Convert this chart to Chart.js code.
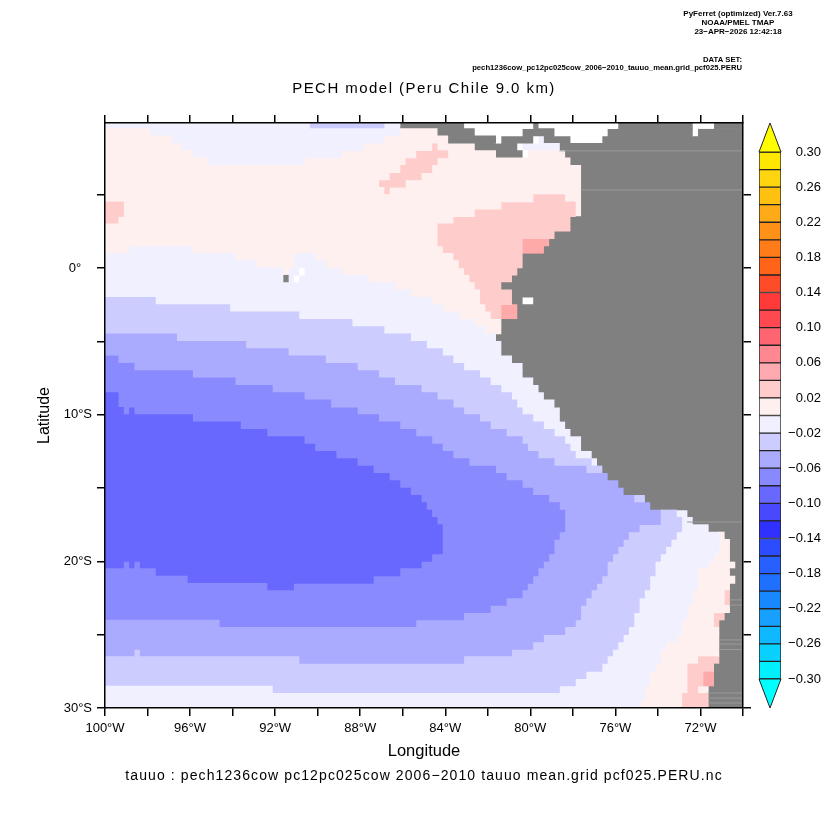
<!DOCTYPE html>
<html>
<head>
<meta charset="utf-8">
<title>PECH model</title>
<script src="https://cdn.jsdelivr.net/npm/chart.js@4/dist/chart.umd.min.js"></script>
<style>
  html, body { margin: 0; padding: 0; background: #fff; }
  canvas { position: absolute; left: 0; top: 0; }
</style>
</head>
<body>
<canvas id="mapChart" width="832" height="832"></canvas>
<canvas id="barChart" width="832" height="832"></canvas>
<script>
// row centres, degrees (negative = south)
var lats = [9.75, 9.25, 8.75, 8.25, 7.75, 7.25, 6.75, 6.25, 5.75, 5.25, 4.75, 4.25, 3.75, 3.25, 2.75, 2.25, 1.75, 1.25, 0.75, 0.25,
            -0.25, -0.75, -1.25, -1.75, -2.25, -2.75, -3.25, -3.75, -4.25, -4.75, -5.25, -5.75, -6.25, -6.75, -7.25, -7.75, -8.25, -8.75, -9.25, -9.75,
            -10.25, -10.75, -11.25, -11.75, -12.25, -12.75, -13.25, -13.75, -14.25, -14.75, -15.25, -15.75, -16.25, -16.75, -17.25, -17.75, -18.25, -18.75, -19.25, -19.75,
            -20.25, -20.75, -21.25, -21.75, -22.25, -22.75, -23.25, -23.75, -24.25, -24.75, -25.25, -25.75, -26.25, -26.75, -27.25, -27.75, -28.25, -28.75, -29.25, -29.75];

// colour class of each run
var classColors = { W: '#ffffff', L: '#808080', a: '#ffaaaa', b: '#ffcccc', c: '#fff0f0', d: '#f0f0ff', e: '#ccccff', f: '#aaaaff', g: '#8a8aff', h: '#6868ff' };

// one row per latitude: start longitude (deg W) then class, run goes on to the next start or 70W
var rows = [
  [100,'d',90.38,'e',86.88,'d',86.13,'L',83.13,'W',79.88,'L',79.63,'W',75.88,'L',72.38,'W',71.38,'L'],
  [100,'c',97.88,'d',86.13,'c',84.38,'L',82.63,'W',80.38,'L',78.88,'W',76.38,'L',72.38,'W',72.13,'L'],
  [100,'c',96.88,'d',86.88,'c',83.88,'L',81.63,'W',81.38,'L',79.88,'W',79.63,'d',79.38,'L',78.13,'W',76.63,'L'],
  [100,'c',96.38,'d',87.88,'c',84.63,'b',84.38,'c',82.63,'L',80.63,'W',80.38,'d',78.63,'L'],
  [100,'c',95.88,'d',88.88,'c',85.38,'b',83.88,'c',81.63,'L',80.38,'W',80.13,'c',78.38,'L'],
  [100,'c',95.13,'d',90.63,'c',85.88,'b',84.38,'c',78.13,'L'],
  [100,'c',86.13,'b',84.63,'c',77.63,'L'],
  [100,'c',86.63,'b',85.13,'c',77.63,'L'],
  [100,'c',87.13,'b',85.88,'c',77.63,'L'],
  [100,'c',86.88,'b',86.63,'c',77.63,'L'],
  [100,'c',79.88,'b',78.38,'c',77.63,'L'],
  [100,'b',99.13,'c',81.38,'b',77.88,'c',77.63,'L'],
  [100,'b',99.13,'c',82.63,'b',77.88,'c',77.63,'L'],
  [100,'b',99.38,'c',83.63,'b',78.13,'L'],
  [100,'c',84.38,'b',78.13,'L'],
  [100,'c',84.38,'b',78.88,'L'],
  [100,'c',84.38,'b',80.38,'a',79.13,'L'],
  [100,'c',98.88,'d',95.88,'c',84.13,'b',80.38,'a',79.38,'L'],
  [100,'d',93.88,'c',91.13,'d',90.13,'c',83.63,'b',80.38,'L'],
  [100,'d',92.88,'c',91.13,'d',89.63,'c',83.38,'b',80.38,'L'],
  [100,'d',91.63,'c',91.38,'d',90.88,'W',90.63,'d',88.88,'c',83.13,'b',80.63,'L'],
  [100,'d',91.63,'L',91.38,'d',91.13,'W',90.88,'d',87.63,'c',82.88,'b',80.88,'L'],
  [100,'d',86.38,'c',82.63,'b',81.38,'L'],
  [100,'d',85.63,'c',82.38,'b',80.88,'L'],
  [100,'e',97.63,'d',84.63,'c',82.38,'b',80.88,'L',80.38,'W',79.88,'L'],
  [100,'e',94.13,'d',84.13,'c',82.13,'b',81.38,'a',80.63,'L'],
  [100,'e',90.88,'d',83.38,'c',81.88,'b',81.38,'a',80.63,'L'],
  [100,'e',88.38,'d',82.63,'c',81.38,'L'],
  [100,'e',86.88,'d',82.13,'c',81.38,'L'],
  [100,'f',96.63,'e',85.63,'d',81.63,'L'],
  [100,'f',93.38,'e',84.88,'d',81.38,'L'],
  [100,'f',91.38,'e',84.13,'d',81.38,'L'],
  [100,'g',99.38,'f',89.63,'e',83.63,'d',80.88,'L'],
  [100,'g',98.63,'f',88.13,'e',83.13,'d',80.38,'L'],
  [100,'g',95.88,'f',87.13,'e',82.38,'d',80.38,'L'],
  [100,'g',93.88,'f',86.38,'e',81.88,'d',79.88,'L'],
  [100,'g',92.13,'f',85.13,'e',81.38,'d',79.63,'L'],
  [100,'h',99.38,'g',90.63,'f',84.38,'e',80.88,'d',79.38,'L'],
  [100,'h',99.38,'g',89.38,'f',83.63,'e',80.63,'d',78.88,'L'],
  [100,'h',99.13,'g',98.88,'h',98.63,'g',88.13,'f',83.13,'e',80.38,'d',78.63,'L'],
  [100,'h',95.88,'g',87.13,'f',82.38,'e',79.88,'d',78.63,'L'],
  [100,'h',93.63,'g',86.13,'f',81.88,'e',79.38,'d',78.38,'L'],
  [100,'h',92.38,'g',85.38,'f',81.13,'e',78.88,'d',78.13,'L'],
  [100,'h',90.63,'g',84.63,'f',80.38,'e',78.38,'d',77.63,'L'],
  [100,'h',90.13,'g',84.13,'f',80.13,'e',78.13,'d',77.63,'L'],
  [100,'h',89.13,'g',83.63,'f',79.63,'e',77.88,'d',77.13,'L'],
  [100,'h',88.13,'g',82.88,'f',78.88,'e',77.13,'d',76.88,'L'],
  [100,'h',87.38,'g',81.63,'f',77.38,'e',76.63,'L'],
  [100,'h',86.63,'g',81.13,'f',76.38,'L'],
  [100,'h',86.13,'g',80.38,'f',75.88,'L'],
  [100,'h',85.63,'g',79.88,'f',75.63,'L'],
  [100,'h',85.13,'g',79.13,'f',75.13,'e',74.63,'L'],
  [100,'h',84.88,'g',78.63,'f',74.38,'L'],
  [100,'h',84.63,'g',78.38,'f',73.88,'e',73.13,'d',72.63,'L'],
  [100,'h',84.38,'g',78.38,'f',73.88,'e',72.88,'d',72.38,'L'],
  [100,'h',84.13,'g',78.38,'f',74.88,'e',72.88,'d',71.63,'L'],
  [100,'h',84.13,'g',78.63,'f',75.38,'e',73.13,'d',71.13,'c',70.88,'L'],
  [100,'h',84.13,'g',78.88,'f',75.63,'e',73.38,'d',71.13,'c',70.63,'L'],
  [100,'h',84.13,'g',78.88,'f',75.88,'e',73.63,'d',71.13,'c',70.63,'L'],
  [100,'h',84.63,'g',79.13,'f',76.13,'e',73.88,'d',71.38,'c',70.63,'L'],
  [100,'h',99.13,'g',98.88,'h',98.63,'g',98.38,'h',85.13,'g',79.38,'f',76.38,'e',74.13,'d',71.63,'c',70.38,'L'],
  [100,'g',97.63,'h',86.13,'g',79.63,'f',76.38,'e',74.13,'d',72.13,'c',70.63,'L'],
  [100,'g',96.13,'h',87.38,'g',79.88,'f',76.63,'e',74.38,'d',72.13,'c',70.38,'L'],
  [100,'g',92.38,'h',91.13,'g',80.13,'f',76.88,'e',74.38,'d',72.13,'c',70.63,'L'],
  [100,'g',80.38,'f',77.13,'e',74.63,'d',72.38,'c',70.88,'b',70.63,'L'],
  [100,'g',81.13,'f',77.38,'e',74.88,'d',72.38,'c',70.88,'b',70.63,'L'],
  [100,'g',81.88,'f',77.63,'e',74.88,'d',72.63,'c',70.63,'L'],
  [100,'g',83.13,'f',77.63,'e',75.13,'d',72.63,'c',71.38,'b',70.88,'L'],
  [100,'f',94.63,'g',85.38,'f',77.88,'e',75.13,'d',72.88,'c',71.38,'b',71.13,'L'],
  [100,'f',78.38,'e',75.38,'d',72.88,'c',71.13,'L'],
  [100,'f',79.38,'e',75.63,'d',73.13,'c',71.13,'L'],
  [100,'f',79.88,'e',75.88,'d',73.63,'c',71.13,'L'],
  [100,'f',98.63,'e',98.38,'f',80.88,'e',76.13,'d',73.88,'c',71.13,'L'],
  [100,'e',90.88,'f',83.13,'e',76.38,'d',73.88,'c',72.13,'b',71.13,'L'],
  [100,'e',76.63,'d',74.13,'c',72.63,'b',71.38,'L'],
  [100,'e',77.38,'d',74.38,'c',72.63,'b',71.88,'a',71.38,'L'],
  [100,'e',77.88,'d',74.38,'c',72.63,'b',71.88,'a',71.38,'L'],
  [100,'d',92.13,'e',78.63,'d',74.63,'c',72.63,'b',72.13,'c',71.63,'L'],
  [100,'d',74.63,'c',72.88,'b',71.63,'L'],
  [100,'d',74.88,'c',72.88,'b',71.63,'L']
];

// thin lighter lines over the land
var seamLats = [7.98, 5.32, -17.32, -22.63, -22.98, -25.36, -25.64, -26.01, -28.98, -29.32, -29.66];
var seamFrom = [78.63, 77.63, 72.63, 70.63, 70.63, 71.13, 71.13, 71.13, 71.63, 71.63, 71.63];

// colour bar, from the bottom up
var barEdges = [-0.30, -0.28, -0.26, -0.24, -0.22, -0.20, -0.18, -0.16, -0.14, -0.12, -0.10, -0.08, -0.06, -0.04, -0.02, 0,
                0.02, 0.04, 0.06, 0.08, 0.10, 0.12, 0.14, 0.16, 0.18, 0.20, 0.22, 0.24, 0.26, 0.28, 0.30];
var barColors = ['#00f0ff', '#08d0ff', '#10b8ff', '#18a0ff', '#1888ff', '#2070ff', '#2860ff', '#2c4cff', '#3030ff', '#4848ff', '#6868ff', '#8888ff', '#aaaaff', '#ccccff', '#f0f0ff',
                 '#fff0f0', '#ffcccc', '#ffaab0', '#ff8890', '#ff6570', '#ff4850', '#ff3a38', '#ff4c28', '#ff6418', '#ff7c18', '#ff9018', '#ffaa18', '#ffc010', '#ffd510', '#ffe600'];

var titleText = 'PECH model (Peru Chile 9.0 km)';
var footText = 'tauuo : pech1236cow pc12pc025cow 2006\u22122010 tauuo mean.grid pcf025.PERU.nc';
var headerLines = ['PyFerret (optimized) Ver.7.63', 'NOAA/PMEL TMAP', '23\u2212APR\u22122026 12:42:18'];
var dataSetLines = ['DATA SET:', 'pech1236cow_pc12pc025cow_2006\u22122010_tauuo_mean.grid_pcf025.PERU'];

var datasets = [];
rows.forEach(function(row, k) {
    for (var j = 0; j < row.length; j += 2) {
        var slot = j / 2;
        if (!datasets[slot]) {
            datasets[slot] = {
                data: [],
                grouped: false,
                barPercentage: 1,
                categoryPercentage: 1,
                borderWidth: 0,
                backgroundColor: function(c) { return c.raw ? classColors[c.raw.cls] : '#fff'; }
            };
        }
        var end = j + 2 < row.length ? row[j + 2] : 70;
        datasets[slot].data.push({ x: [row[j], end], y: lats[k], cls: row[j + 1] });
    }
});
seamLats.forEach(function(lat, i) {
    datasets.push({
        type: 'line',
        order: -1,
        data: [{ x: seamFrom[i], y: lat }, { x: 70, y: lat }],
        borderColor: '#9a9a9a',
        borderWidth: 1,
        pointRadius: 0
    });
});

// header and footer text, the chart's own title box can not sit this freely
var textPlugin = {
    id: 'textPlugin',
    afterDraw: function(chart) {
        var ctx = chart.ctx;
        ctx.save();
        ctx.fillStyle = '#000';
        ctx.textBaseline = 'middle';
        ctx.textAlign = 'center';
        ctx.font = '15px "Liberation Sans"';
        ctx.letterSpacing = '1.45px';
        ctx.fillText(titleText, 424, 89);
        ctx.font = '14px "Liberation Sans"';
        ctx.letterSpacing = '1.1px';
        ctx.fillText(footText, 424, 776);
        ctx.letterSpacing = '0px';
        ctx.font = 'bold 8px "Liberation Sans"';
        headerLines.forEach(function(t, i) { ctx.fillText(t, 738, 14 + i * 9); });
        ctx.textAlign = 'right';
        ctx.font = 'bold 7.7px "Liberation Sans"';
        ctx.fillText(dataSetLines[0], 742, 60);
        ctx.fillText(dataSetLines[1], 742, 68);
        ctx.restore();
    }
};

var ctx = document.getElementById('mapChart').getContext('2d');
var mapChart = new Chart(ctx, {
    type: 'bar',
    data: { datasets: datasets },
    plugins: [textPlugin],
    options: {
        indexAxis: 'y',
        responsive: false,
        animation: false,
        layout: { padding: { left: 30, right: 81, top: 115, bottom: 67 } },
        plugins: { legend: { display: false }, tooltip: { enabled: false } },
        scales: {
            x: {
                type: 'linear', position: 'bottom', reverse: true, min: 70, max: 100,
                afterFit: function(s) { s.height = 57; },
                grid: { drawOnChartArea: false, color: '#000', tickLength: 8, lineWidth: 1.5, z: 1 },
                border: { color: '#000', width: 1.5, z: 1 },
                ticks: {
                    stepSize: 2, autoSkip: false, maxRotation: 0, color: '#000', padding: 5,
                    font: { family: 'Liberation Sans', size: 13 },
                    callback: function(v) { return v % 4 === 0 ? v + '\u00b0W' : ''; }
                },
                title: { display: true, text: 'Longitude', color: '#000', padding: 4, font: { family: 'Liberation Sans', size: 16.5 } }
            },
            xTop: {
                type: 'linear', position: 'top', reverse: true, min: 70, max: 100,
                afterFit: function(s) { s.height = 8; },
                grid: { drawOnChartArea: false, color: '#000', tickLength: 8, lineWidth: 1.5, z: 1 },
                border: { color: '#000', width: 1.5, z: 1 },
                ticks: { stepSize: 2, autoSkip: false, callback: function() { return ''; } }
            },
            y: {
                type: 'linear', position: 'left', min: -30, max: 9.88, offset: false,
                afterFit: function(s) { s.width = 75; },
                grid: { offset: false, drawOnChartArea: false, color: '#000', tickLength: 8, lineWidth: 1.5, z: 1 },
                border: { color: '#000', width: 1.5, z: 1 },
                ticks: {
                    stepSize: 5, includeBounds: false, autoSkip: false, color: '#000', padding: 5,
                    font: { family: 'Liberation Sans', size: 13 },
                    callback: function(v) {
                        if (v % 10 !== 0) return '';
                        return v === 0 ? '0\u00b0\u00a0\u00a0\u00a0' : (-v) + '\u00b0S';
                    }
                },
                title: { display: true, text: 'Latitude', color: '#000', padding: 5, font: { family: 'Liberation Sans', size: 16 } }
            },
            yRight: {
                type: 'linear', position: 'right', min: -30, max: 9.88, offset: false,
                afterFit: function(s) { s.width = 8; },
                grid: { offset: false, drawOnChartArea: false, color: '#000', tickLength: 8, lineWidth: 1.5, z: 1 },
                border: { color: '#000', width: 1.5, z: 1 },
                ticks: { stepSize: 5, includeBounds: false, autoSkip: false, callback: function() { return ''; } }
            }
        }
    }
});

// end arrows of the colour bar, beyond the first and last level
var arrowTop = 0.333;
var arrowBottom = -0.333;
var arrowPlugin = {
    id: 'arrowPlugin',
    afterDatasetsDraw: function(chart) {
        var c = chart.ctx, area = chart.chartArea, y = chart.scales.y;
        var mid = (area.left + area.right) / 2;
        function arrow(from, to, fill) {
            c.beginPath();
            c.moveTo(area.left, y.getPixelForValue(from));
            c.lineTo(mid, y.getPixelForValue(to));
            c.lineTo(area.right, y.getPixelForValue(from));
            c.closePath();
            c.fillStyle = fill;
            c.fill();
            c.strokeStyle = '#222';
            c.lineWidth = 1;
            c.stroke();
        }
        arrow(0.30, arrowTop, '#ffff00');
        arrow(-0.30, arrowBottom, '#00ffff');
    }
};

var barDatasets = barColors.map(function(col, i) {
    return {
        data: [[barEdges[i], barEdges[i + 1]]],
        backgroundColor: col,
        borderColor: '#222',
        borderWidth: 1,
        borderSkipped: false,
        grouped: false,
        barPercentage: 1,
        categoryPercentage: 1
    };
});

var ctx2 = document.getElementById('barChart').getContext('2d');
var barChart = new Chart(ctx2, {
    type: 'bar',
    data: { labels: ['tauuo'], datasets: barDatasets },
    plugins: [arrowPlugin],
    options: {
        responsive: false,
        animation: false,
        layout: { padding: { left: 759, right: 11, top: 152, bottom: 153 } },
        plugins: { legend: { display: false }, tooltip: { enabled: false } },
        scales: {
            x: { display: false },
            y: {
                position: 'right', min: -0.30, max: 0.30,
                afterFit: function(s) { s.width = 40; },
                grid: { display: false },
                border: { display: false },
                ticks: {
                    stepSize: 0.04, autoSkip: false, color: '#000', crossAlign: 'far',
                    font: { family: 'Liberation Sans', size: 13 },
                    callback: function(v) { return v < 0 ? '\u2212' + (-v).toFixed(2) : v.toFixed(2); }
                }
            }
        }
    }
});
</script>
</body>
</html>
